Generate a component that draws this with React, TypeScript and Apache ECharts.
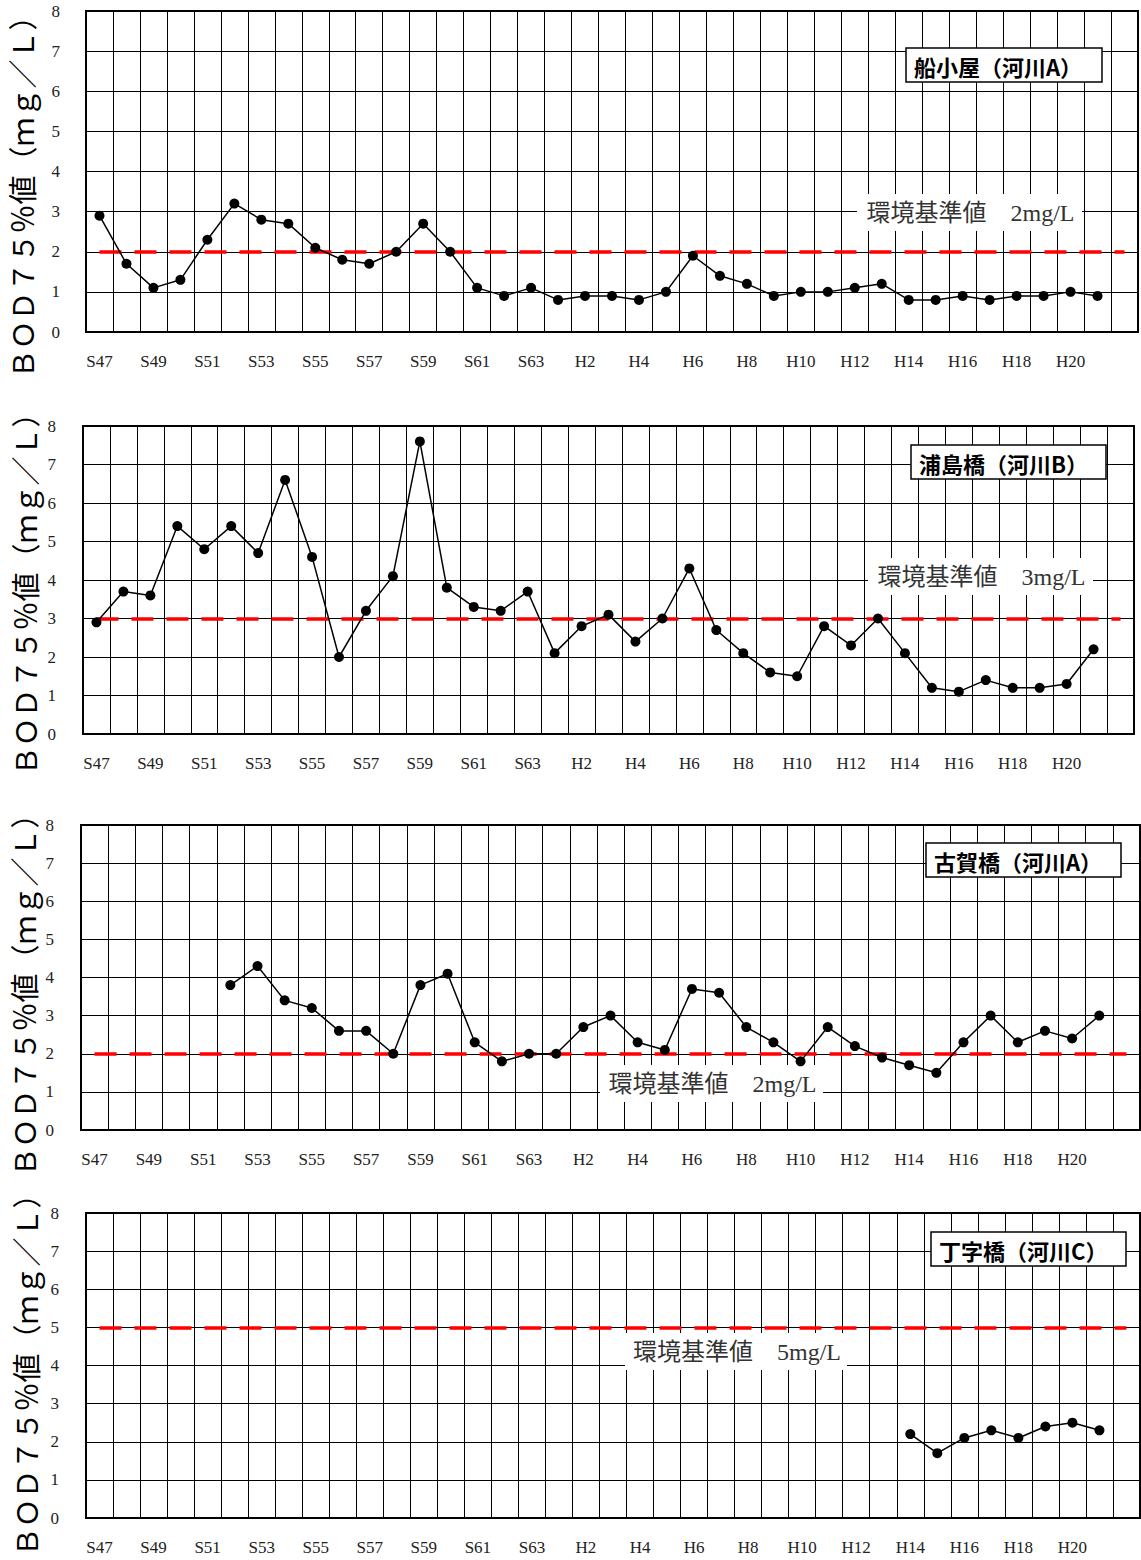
import React, { useEffect, useRef } from 'react';
import * as echarts from 'echarts';

// ---------- data ----------
const categories = [
  'S47', 'S48', 'S49', 'S50', 'S51', 'S52', 'S53', 'S54', 'S55', 'S56', 'S57', 'S58', 'S59', 'S60', 'S61', 'S62', 'S63',
  'H1', 'H2', 'H3', 'H4', 'H5', 'H6', 'H7', 'H8', 'H9', 'H10', 'H11', 'H12', 'H13', 'H14', 'H15', 'H16', 'H17', 'H18', 'H19', 'H20', 'H21', 'H22',
];

const funakoyaValues = [
  2.9, 1.7, 1.1, 1.3, 2.3, 3.2, 2.8, 2.7, 2.1, 1.8, 1.7, 2.0, 2.7, 2.0, 1.1, 0.9, 1.1,
  0.8, 0.9, 0.9, 0.8, 1.0, 1.9, 1.4, 1.2, 0.9, 1.0, 1.0, 1.1, 1.2, 0.8, 0.8, 0.9, 0.8, 0.9, 0.9, 1.0, 0.9, null,
];

const urashimaValues = [
  2.9, 3.7, 3.6, 5.4, 4.8, 5.4, 4.7, 6.6, 4.6, 2.0, 3.2, 4.1, 7.6, 3.8, 3.3, 3.2, 3.7,
  2.1, 2.8, 3.1, 2.4, 3.0, 4.3, 2.7, 2.1, 1.6, 1.5, 2.8, 2.3, 3.0, 2.1, 1.2, 1.1, 1.4, 1.2, 1.2, 1.3, 2.2, null,
];

const kogaValues = [
  null, null, null, null, null, 3.8, 4.3, 3.4, 3.2, 2.6, 2.6, 2.0, 3.8, 4.1, 2.3, 1.8, 2.0,
  2.0, 2.7, 3.0, 2.3, 2.1, 3.7, 3.6, 2.7, 2.3, 1.8, 2.7, 2.2, 1.9, 1.7, 1.5, 2.3, 3.0, 2.3, 2.6, 2.4, 3.0, null,
];

const chojiValues = [
  null, null, null, null, null, null, null, null, null, null, null, null, null, null, null, null, null,
  null, null, null, null, null, null, null, null, null, null, null, null, null, 2.2, 1.7, 2.1, 2.3, 2.1, 2.4, 2.5, 2.3, null,
];

const stationTitles = ['船小屋（河川A）', '浦島橋（河川B）', '古賀橋（河川A）', '丁字橋（河川C）'];
const standardValues = [2, 3, 2, 5];
const seriesValues = [funakoyaValues, urashimaValues, kogaValues, chojiValues];
const yAxisTitle = 'ＢＯＤ７５％値（ｍｇ／Ｌ）';
const yMin = 0;
const yMax = 8;
const yInterval = 1;

// ---------- layout ----------
const WIDTH = 1141;
const HEIGHT = 1560;

const layouts = [
  {
    grid: { left: 86, top: 11, width: 1052, height: 321 },
    titleBox: { x: 906, y: 48, w: 196, h: 34 },
    note: { x: 857, y: 194, w: 225, h: 37 },
    yTitle: { x: 21, y: 190 },
    labelMargin: 26,
  },
  {
    grid: { left: 83, top: 426, width: 1051, height: 308 },
    titleBox: { x: 911, y: 445, w: 195, h: 34 },
    note: { x: 868, y: 558, w: 225, h: 37 },
    yTitle: { x: 24, y: 587 },
    labelMargin: 27,
  },
  {
    grid: { left: 81, top: 825, width: 1059, height: 305 },
    titleBox: { x: 926, y: 843, w: 195, h: 34 },
    note: { x: 600, y: 1065, w: 223, h: 37 },
    yTitle: { x: 23, y: 988 },
    labelMargin: 27,
  },
  {
    grid: { left: 86, top: 1213, width: 1054, height: 305 },
    titleBox: { x: 931, y: 1232, w: 195, h: 34 },
    note: { x: 625, y: 1333, w: 222, h: 37 },
    yTitle: { x: 25, y: 1368 },
    labelMargin: 27,
  },
];

const SERIF = "'Liberation Serif', 'DejaVu Serif', 'Noto Sans CJK JP', serif";
const GOTHIC = "'Noto Sans CJK JP', 'Noto Sans', sans-serif";

function buildOption() {
  const grid: any[] = [];
  const xAxis: any[] = [];
  const yAxis: any[] = [];
  const series: any[] = [];
  const graphic: any[] = [];

  layouts.forEach((L, i) => {
    grid.push({
      ...L.grid,
      show: true,
      borderColor: '#000',
      borderWidth: 2,
      backgroundColor: 'transparent',
      containLabel: false,
    });
    xAxis.push({
      type: 'category',
      gridIndex: i,
      data: categories,
      boundaryGap: true,
      axisLine: { show: true, lineStyle: { color: '#000', width: 2 } },
      axisTick: { show: false },
      splitLine: { show: true, interval: 0, lineStyle: { color: '#000', width: 1 } },
      axisLabel: {
        interval: (idx: number) => idx % 2 === 0 && idx < categories.length - 1,
        margin: 21,
        fontFamily: SERIF,
        fontSize: 17,
        color: '#222',
      },
    });
    yAxis.push({
      type: 'value',
      gridIndex: i,
      min: yMin,
      max: yMax,
      interval: yInterval,
      axisLine: { show: true, lineStyle: { color: '#000', width: 2 } },
      axisTick: { show: false },
      splitLine: { show: true, lineStyle: { color: '#000', width: 1 } },
      axisLabel: {
        margin: L.labelMargin,
        fontFamily: SERIF,
        fontSize: 17,
        color: '#222',
      },
    });
    const std = standardValues[i];
    series.push({
      type: 'line',
      xAxisIndex: i,
      yAxisIndex: i,
      data: seriesValues[i],
      symbol: 'circle',
      symbolSize: 10,
      connectNulls: false,
      silent: true,
      z: 10,
      itemStyle: { color: '#000' },
      lineStyle: { color: '#000', width: 1.5 },
      markLine: {
        silent: true,
        symbol: ['none', 'none'],
        label: { show: false },
        lineStyle: { color: '#ff0000', width: 3.5, type: [22, 13] },
        emphasis: { disabled: true },
        data: [[
          { coord: [categories[0], std] },
          { coord: [categories[categories.length - 1], std] },
        ]],
      },
    });

    // standard value note (white box + text)
    graphic.push({
      type: 'rect',
      z: 3,
      silent: true,
      shape: { x: L.note.x, y: L.note.y, width: L.note.w, height: L.note.h },
      style: { fill: '#fff' },
    });
    graphic.push({
      type: 'text',
      z: 4,
      silent: true,
      x: L.note.x + L.note.w / 2 + 1,
      y: L.note.y + L.note.h / 2,
      style: {
        text: `環境基準値　${std}mg/L`,
        fontSize: 24,
        fontFamily: SERIF,
        fill: '#333',
        align: 'center',
        verticalAlign: 'middle',
      },
    });

    // station title box
    graphic.push({
      type: 'rect',
      z: 20,
      silent: true,
      shape: { x: L.titleBox.x, y: L.titleBox.y, width: L.titleBox.w, height: L.titleBox.h },
      style: { fill: '#fff', stroke: '#000', lineWidth: 1.5 },
    });
    graphic.push({
      type: 'text',
      z: 21,
      silent: true,
      x: L.titleBox.x + 8,
      y: L.titleBox.y + L.titleBox.h / 2 + 1,
      style: {
        text: stationTitles[i],
        fontSize: 22,
        fontWeight: 'bold',
        fontFamily: GOTHIC,
        fill: '#000',
        align: 'left',
        verticalAlign: 'middle',
      },
    });

    // y axis title (rotated)
    graphic.push({
      type: 'text',
      z: 5,
      silent: true,
      x: L.yTitle.x,
      y: L.yTitle.y,
      rotation: Math.PI / 2,
      style: {
        text: yAxisTitle,
        fontSize: 29,
        fontFamily: GOTHIC,
        fill: '#000',
        align: 'center',
        verticalAlign: 'middle',
      },
    });
  });

  return {
    animation: false,
    backgroundColor: '#fff',
    grid,
    xAxis,
    yAxis,
    series,
    graphic: { elements: graphic },
  };
}

export default function App() {
  const ref = useRef<HTMLDivElement>(null);

  useEffect(() => {
    document.body.style.margin = '0';
    if (!ref.current) return;
    const chart = echarts.init(ref.current, null, { renderer: 'svg' });
    chart.setOption(buildOption() as any);
    return () => {
      chart.dispose();
    };
  }, []);

  return <div ref={ref} style={{ width: WIDTH, height: HEIGHT }} />;
}
